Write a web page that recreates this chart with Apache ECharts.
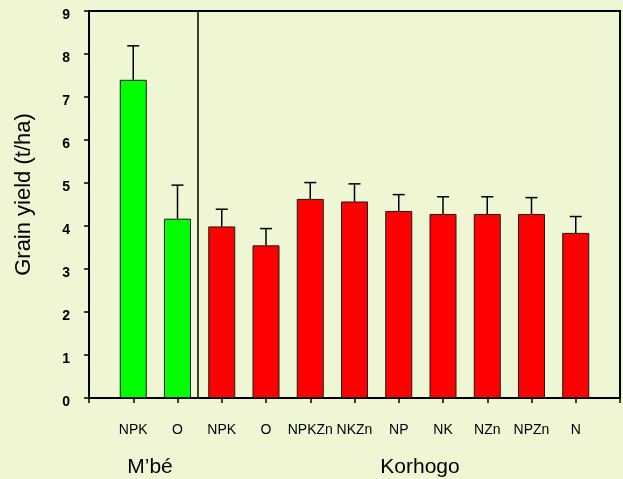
<!DOCTYPE html>
<html>
<head>
<meta charset="utf-8">
<script src="https://cdn.jsdelivr.net/npm/echarts@6/dist/echarts.min.js"></script>
<style>
html,body{margin:0;padding:0;background:#EEF6D3;}
#c{width:623px;height:479px;}
</style>
</head>
<body>
<div id="c"></div>
<script>
var categories = ['NPK','O','NPK','O','NPKZn','NKZn','NP','NK','NZn','NPZn','N'];
var groups = ['M\u2019bé','Korhogo'];
var siteOf = [0,0,1,1,1,1,1,1,1,1,1];
var yields = [7.40,4.17,3.99,3.55,4.63,4.57,4.35,4.28,4.28,4.28,3.84];
var errTops = [8.19,4.95,4.39,3.94,5.01,4.98,4.73,4.68,4.68,4.66,4.22];
var yTicks = [0,1,2,3,4,5,6,7,8,9];
var siteColors = ['#00FF00','#FF0000'];

var chart = echarts.init(document.getElementById('c'));
var barData = yields.map(function(v,i){
  return {value:[i+1,v], itemStyle:{color:siteColors[siteOf[i]]}};
});
var errData = yields.map(function(v,i){ return [i+1, v, errTops[i]]; });
var FF = 'Liberation Sans, Arial, sans-serif';

chart.setOption({
  backgroundColor:'#EEF6D3',
  animation:false,
  grid:{left:89,right:2,top:11,bottom:81,show:true,borderColor:'#000',borderWidth:2,backgroundColor:'transparent'},
  xAxis:{
    type:'value',min:0,max:categories.length+1,interval:1,
    axisLine:{show:true,lineStyle:{color:'#000',width:2}},
    axisTick:{show:true,inside:false,length:5,lineStyle:{color:'#000',width:1.5}},
    splitLine:{show:false},
    axisLabel:{
      margin:25,color:'#000',fontSize:14,fontFamily:FF,
      formatter:function(v){ var i=Math.round(v)-1; return (i>=0&&i<categories.length)?categories[i]:''; }
    }
  },
  yAxis:{
    type:'value',min:yTicks[0],max:yTicks[yTicks.length-1],interval:1,
    name:'Grain yield (t/ha)',nameLocation:'middle',nameGap:54,nameRotate:90,
    nameTextStyle:{color:'#000',fontSize:22,fontFamily:FF,padding:[0,0,0,20]},
    axisLine:{show:true,lineStyle:{color:'#000',width:2}},
    axisTick:{show:true,inside:false,length:5,lineStyle:{color:'#000',width:1.5}},
    splitLine:{show:false},
    axisLabel:{margin:19,color:'#000',fontSize:14,fontWeight:'bold',fontFamily:FF,verticalAlign:'top',lineHeight:9}
  },
  series:[
    {
      type:'bar',barWidth:27,data:barData,
      itemStyle:{borderColor:'#1a1a1a',borderWidth:1},
      markLine:{
        silent:true,symbol:['none','none'],label:{show:false},
        lineStyle:{color:'#000',type:'solid',width:1.5},
        data:[{xAxis:2.45}]
      }
    },
    {
      type:'custom',data:errData,z:5,
      renderItem:function(params,api){
        var x=api.value(0);
        var p0=api.coord([x,api.value(1)]);
        var p1=api.coord([x,api.value(2)]);
        var hw=6;
        return {type:'group',children:[
          {type:'line',shape:{x1:p0[0],y1:p0[1],x2:p1[0],y2:p1[1]},style:{stroke:'#000',lineWidth:1.5}},
          {type:'line',shape:{x1:p1[0]-hw,y1:p1[1],x2:p1[0]+hw,y2:p1[1]},style:{stroke:'#000',lineWidth:1.5}}
        ]};
      }
    }
  ],
  graphic:[
    {type:'text',x:150,y:467,style:{text:groups[0],fill:'#000',fontSize:21,fontFamily:FF,textAlign:'center',textVerticalAlign:'middle'}},
    {type:'text',x:420,y:467,style:{text:groups[1],fill:'#000',fontSize:21,fontFamily:FF,textAlign:'center',textVerticalAlign:'middle'}}
  ]
});
</script>
</body>
</html>
